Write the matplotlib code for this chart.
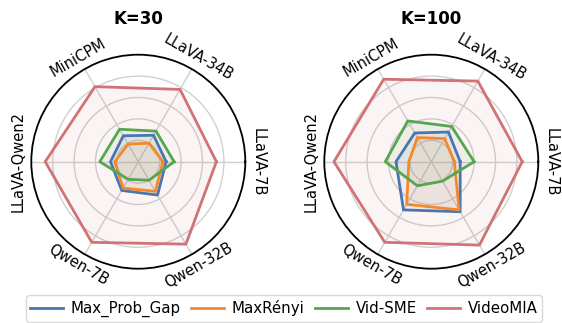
import numpy as np
import matplotlib
matplotlib.use("Agg")
import matplotlib.pyplot as plt
from matplotlib.lines import Line2D

models = ["LLaVA-7B", "LLaVA-34B", "MiniCPM", "LLaVA-Qwen2", "Qwen-7B", "Qwen-32B"]
methods = ["Max_Prob_Gap", "MaxRényi", "Vid-SME", "VideoMIA"]
colors = ["#4a76b0", "#f5892a", "#55a64e", "#d07376"]

# scores per method, ordered as in `models`
k30_max_prob_gap = [0.26, 0.285, 0.28, 0.26, 0.31, 0.36]
k30_maxrenyi     = [0.23, 0.20, 0.19, 0.22, 0.285, 0.32]
k30_vid_sme      = [0.335, 0.33, 0.35, 0.36, 0.19, 0.20]
k30_videomia     = [0.73, 0.78, 0.81, 0.87, 0.87, 0.89]

k100_max_prob_gap = [0.27, 0.32, 0.31, 0.33, 0.52, 0.54]
k100_maxrenyi     = [0.215, 0.25, 0.26, 0.21, 0.46, 0.52]
k100_vid_sme      = [0.40, 0.38, 0.44, 0.43, 0.26, 0.21]
k100_videomia     = [0.85, 0.87, 0.89, 0.91, 0.87, 0.90]

panels = [
    ("K=30", [k30_max_prob_gap, k30_maxrenyi, k30_vid_sme, k30_videomia]),
    ("K=100", [k100_max_prob_gap, k100_maxrenyi, k100_vid_sme, k100_videomia]),
]

W, H = 562, 323
fig = plt.figure(figsize=(W / 100, H / 100), dpi=100)

angles = np.linspace(0, 2 * np.pi, len(models), endpoint=False)
size = 214
centers_x = [138.3, 431.3]
center_y = 161.7

for (title, series), cx in zip(panels, centers_x):
    left = (cx - size / 2) / W
    bottom = (H - center_y - size / 2) / H
    ax = fig.add_axes([left, bottom, size / W, size / H], projection="polar")
    for vals, col in zip(series, colors):
        a = np.append(angles, angles[0])
        v = np.append(vals, vals[0])
        ax.plot(a, v, color=col, lw=2.0, zorder=3)
        ax.fill(a, v, color=col, alpha=0.08, zorder=2)
    ax.set_ylim(0, 1)
    ax.set_yticks([0.2, 0.4, 0.6, 0.8])
    ax.set_yticklabels([])
    ax.set_xticks(angles)
    ax.set_xticklabels([])
    ax.grid(color="#d0d0d0", lw=1.0)
    ax.spines["polar"].set_color("black")
    ax.spines["polar"].set_linewidth(1.3)
    for ang, name in zip(angles, models):
        deg = np.degrees(ang) - 90
        if deg > 90:
            deg -= 180
        ax.text(ang, 1.12, name, rotation=deg, rotation_mode="anchor",
                ha="center", va="center", fontsize=10.5, color="black")
    ax.set_title(title, fontsize=12, fontweight="bold", y=1.142, pad=0)

handles = [Line2D([0], [0], color=c, lw=2.0) for c in colors]
fig.legend(handles, methods, loc="lower center",
           bbox_to_anchor=(284 / W, 1.5 / H), borderaxespad=0,
           ncol=4, fontsize=10.8, frameon=True, handlelength=2.2,
           columnspacing=0.7, handletextpad=0.5, borderpad=0.3,
           edgecolor="#d0d0d0")

fig.savefig("out.png", dpi=100)
